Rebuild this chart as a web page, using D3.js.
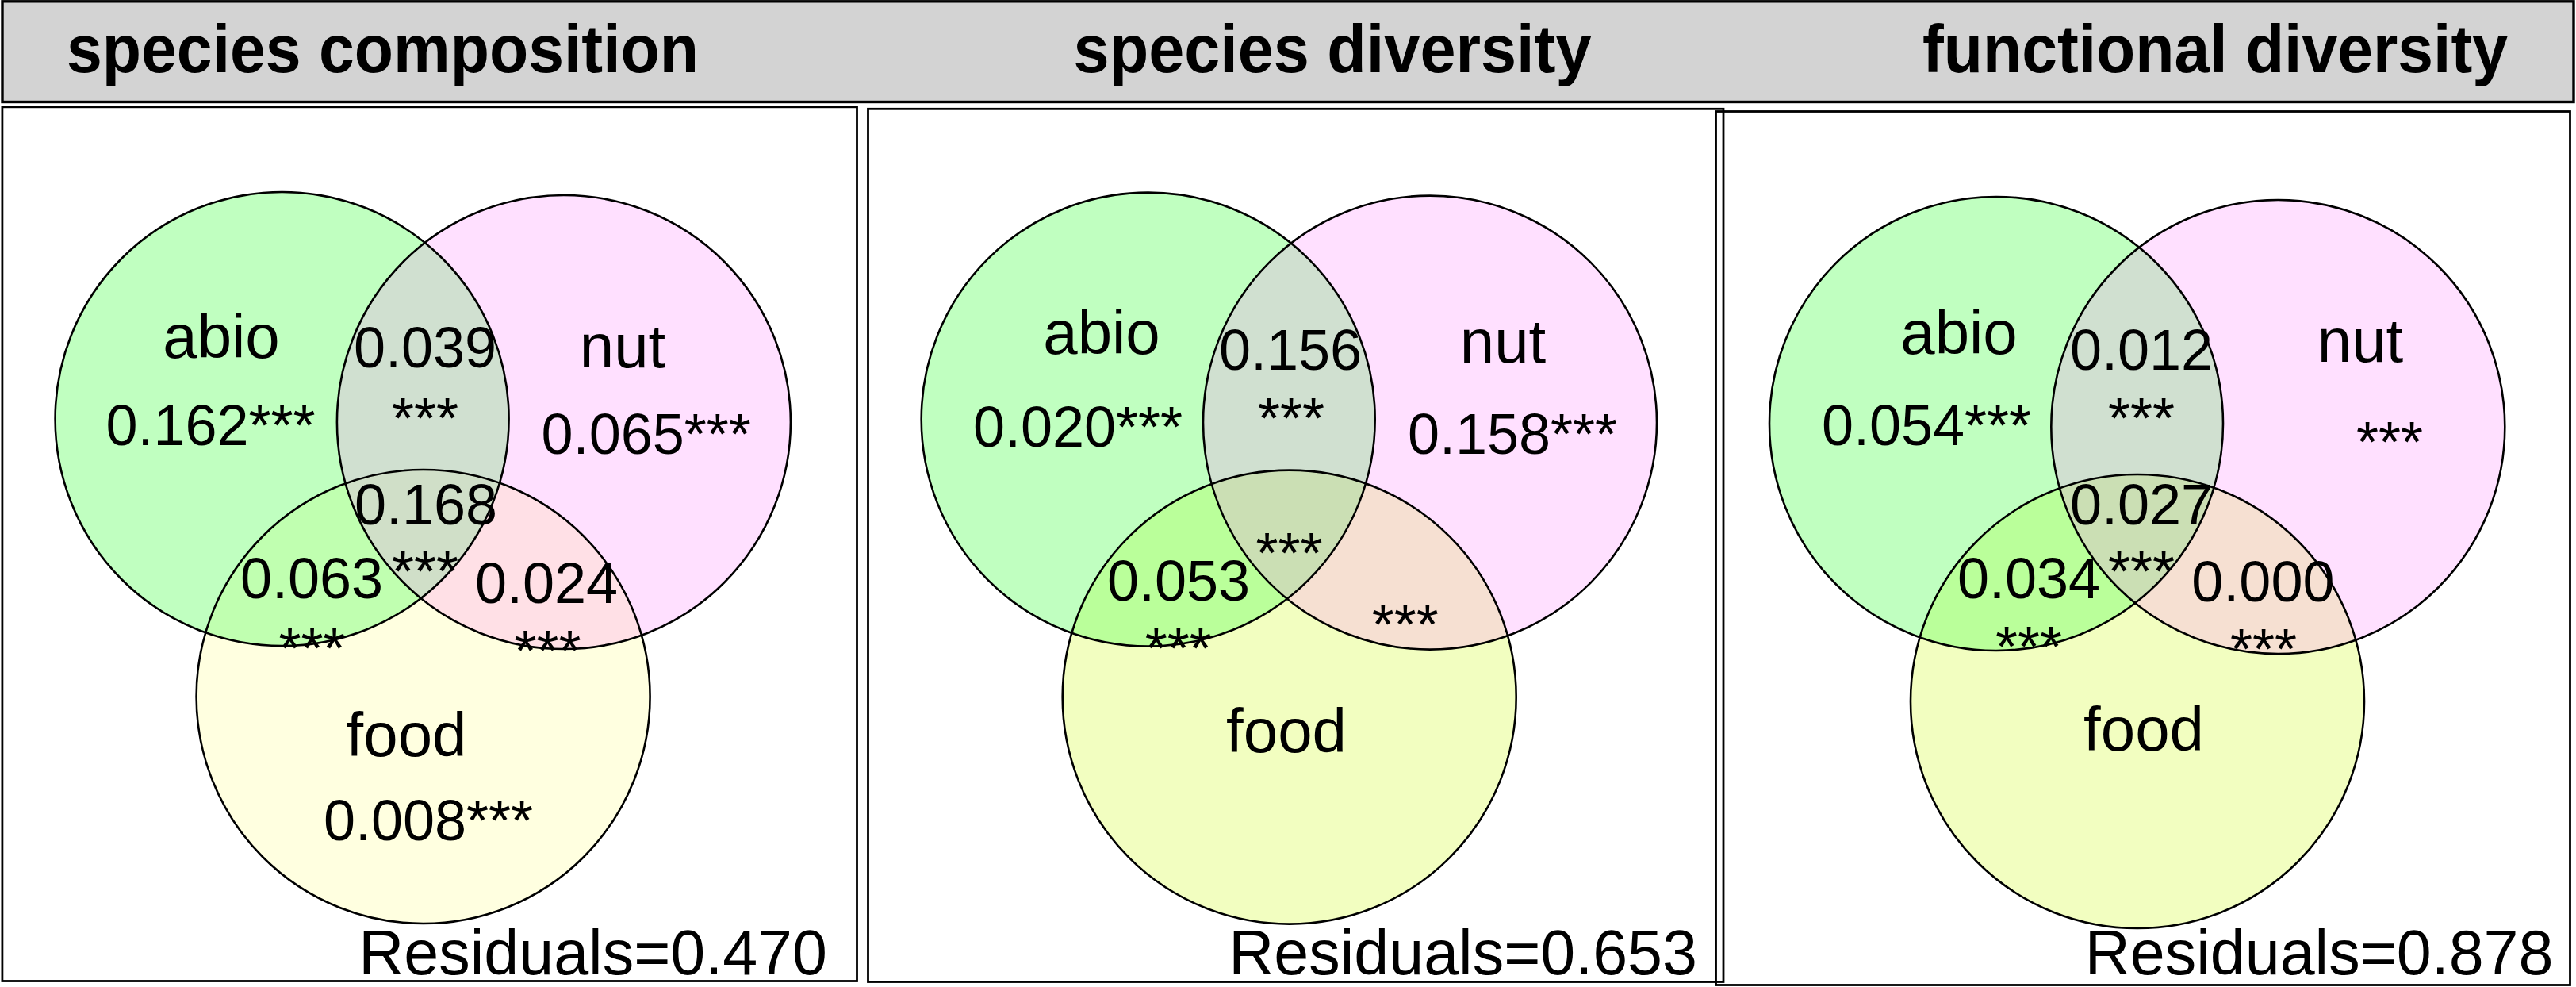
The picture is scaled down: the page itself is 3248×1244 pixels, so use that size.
<!DOCTYPE html>
<html>
<head>
<meta charset="utf-8">
<script src="https://cdn.jsdelivr.net/npm/d3@7"></script>
<style>
  html, body { margin: 0; padding: 0; background: #ffffff; }
  svg { display: block; }
  text { font-family: "Liberation Sans", Arial, Helvetica, sans-serif; fill: #000; }
</style>
</head>
<body>
<svg id="chart" width="3248" height="1244"></svg>
<script>
// ---------------- DATA ----------------
const titles = ["species composition", "species diversity", "functional diversity"];
const setNames = ["abio", "nut", "food"];
const regionKeys = ["abio", "nut", "food", "abio_nut", "abio_food", "nut_food", "abio_nut_food"];
const compositionValues = [0.162, 0.065, 0.008, 0.039, 0.063, 0.024, 0.168];
const diversityValues   = [0.020, 0.158, null, 0.156, 0.053, null, null];
const functionalValues  = [0.054, null, null, 0.012, 0.034, 0.000, 0.027];
const compositionSig = ["***", "***", "***", "***", "***", "***", "***"];
const diversitySig   = ["***", "***", "",    "***", "***", "***", "***"];
const functionalSig  = ["***", "***", "",    "***", "***", "***", "***"];
const residuals = [0.470, 0.653, 0.878];

// ---------------- LAYOUT (positions / styles) ----------------
const W = 3248, H = 1244;
const R = 286; // circle radius in layout units
const setCenters = { abio: [0, 0], nut: [355.3, 4], food: [178, 350] };

const panels = [
  { ax: 355.6, ay: 528, box: [2.9, 134.8, 1080.5, 1236.5], titleX: 84, titleW: 797, resX: 1043, resY: 1228,
    labels: { abio: [-76.6, -77], nut: [429.4, -65.4], food: [156.9, 425] },
    pos: {
      abio: { v: [-90.1, 33] }, nut: { v: [459.1, 43.6] }, food: { v: [184.4, 531] },
      abio_nut: { v: [180.4, -65.4], s: [180.4, 24] },
      abio_food: { v: [37.4, 226.4], s: [37.9, 313.5] },
      nut_food: { v: [333.4, 232], s: [335, 317] },
      abio_nut_food: { v: [181.4, 133], s: [180.4, 217] } },
    colors: { abio: "#c0ffc0", nut: "#ffe0ff", food: "#ffffe0", abio_nut: "#d0e0d0",
              abio_food: "#c0ffb0", nut_food: "#ffe0e6", abio_nut_food: "#d0dfc8" } },
  { ax: 1447.7, ay: 528.6, box: [1094.5, 137.3, 2173, 1237.5], titleX: 1353.6, titleW: 653, resX: 2140, resY: 1228,
    labels: { abio: [-58.7, -82.6], nut: [447.3, -71.6], food: [174.3, 419.4] },
    pos: {
      abio: { v: [-88.7, 34.4] }, nut: { v: [459.3, 43] }, food: { v: [174, 520] },
      abio_nut: { v: [179.3, -63], s: [180.3, 23] },
      abio_food: { v: [38.3, 228], s: [38, 313] },
      nut_food: { v: [333, 232], s: [324, 283] },
      abio_nut_food: { v: [180, 133], s: [177.8, 193.4] } },
    colors: { abio: "#c0ffc0", nut: "#ffe0ff", food: "#f2fec0", abio_nut: "#d0e0d0",
              abio_food: "#baff9a", nut_food: "#f6e0d2", abio_nut_food: "#cbdfb4" } },
  { ax: 2517, ay: 534, box: [2163.5, 140.5, 3240.5, 1241.5], titleX: 2424, titleW: 738, resX: 3219.5, resY: 1228,
    labels: { abio: [-47, -88], nut: [459, -78.5], food: [186, 412] },
    pos: {
      abio: { v: [-88, 27] }, nut: { v: [459, 43], s: [496, 47.5] }, food: { v: [186, 520] },
      abio_nut: { v: [183, -68.5], s: [183, 17.5] },
      abio_food: { v: [41, 220.4], s: [41, 305.5] },
      nut_food: { v: [336.4, 224], s: [337, 309] },
      abio_nut_food: { v: [183, 127], s: [183, 211] } },
    colors: { abio: "#c0ffc0", nut: "#ffe0ff", food: "#f2fec0", abio_nut: "#d0e0d0",
              abio_food: "#baff9a", nut_food: "#f6e0d2", abio_nut_food: "#cbdfb4" } }
];

const panelValues = [compositionValues, diversityValues, functionalValues];
const panelSig = [compositionSig, diversitySig, functionalSig];

const fmt = d3.format(".3f");
const svg = d3.select("#chart");

// ---------------- HEADER ----------------
svg.append("rect")
  .attr("x", 3).attr("y", 1.8).attr("width", W - 6).attr("height", 126.7)
  .attr("fill", "#d3d3d3").attr("stroke", "#000").attr("stroke-width", 3.4);

titles.forEach((t, i) => {
  svg.append("text")
    .attr("x", panels[i].titleX).attr("y", 91)
    .attr("font-size", 85).attr("font-weight", "bold")
    .attr("textLength", panels[i].titleW).attr("lengthAdjust", "spacingAndGlyphs")
    .text(t);
});

// ---------------- PANELS ----------------
const defs = svg.append("defs");

panels.forEach((p, i) => {
  const x = d3.scaleLinear().domain([0, 1]).range([p.ax, p.ax + 1]);
  const y = d3.scaleLinear().domain([0, 1]).range([p.ay, p.ay + 1]);
  const g = svg.append("g");

  // frame
  g.append("rect")
    .attr("x", p.box[0]).attr("y", p.box[1])
    .attr("width", p.box[2] - p.box[0]).attr("height", p.box[3] - p.box[1])
    .attr("fill", "none").attr("stroke", "#000").attr("stroke-width", 2.8);

  const circ = setNames.map(n => ({ name: n, cx: x(setCenters[n][0]), cy: y(setCenters[n][1]), r: x(R) - x(0) }));
  const byName = {};
  circ.forEach(c => { byName[c.name] = c; });

  // clip paths
  circ.forEach(c => {
    defs.append("clipPath").attr("id", `clip-${c.name}-${i}`)
      .append("circle").attr("cx", c.cx).attr("cy", c.cy).attr("r", c.r);
  });

  const addCircle = (sel, c, fill) => sel.append("circle")
    .attr("cx", c.cx).attr("cy", c.cy).attr("r", c.r).attr("fill", fill);

  // single sets
  circ.forEach(c => addCircle(g, c, p.colors[c.name]));
  // pairwise intersections
  addCircle(g.append("g").attr("clip-path", `url(#clip-abio-${i})`), byName.nut, p.colors.abio_nut);
  addCircle(g.append("g").attr("clip-path", `url(#clip-abio-${i})`), byName.food, p.colors.abio_food);
  addCircle(g.append("g").attr("clip-path", `url(#clip-nut-${i})`), byName.food, p.colors.nut_food);
  // triple
  addCircle(g.append("g").attr("clip-path", `url(#clip-abio-${i})`)
              .append("g").attr("clip-path", `url(#clip-nut-${i})`), byName.food, p.colors.abio_nut_food);

  // outlines
  g.selectAll("circle.outline").data(circ).join("circle")
    .attr("class", "outline")
    .attr("cx", d => d.cx).attr("cy", d => d.cy).attr("r", d => d.r)
    .attr("fill", "none").attr("stroke", "#000").attr("stroke-width", 2.6);

  // set labels
  setNames.forEach(n => {
    g.append("text")
      .attr("x", x(p.labels[n][0])).attr("y", y(p.labels[n][1]))
      .attr("text-anchor", "middle").attr("font-size", 78)
      .text(n);
  });

  // region values
  const vals = panelValues[i], sigs = panelSig[i];
  regionKeys.forEach((k, j) => {
    const v = vals[j], s = sigs[j], pos = p.pos[k];
    const single = j < 3;
    if (v !== null && single) {
      g.append("text")
        .attr("x", x(pos.v[0])).attr("y", y(pos.v[1]))
        .attr("text-anchor", "middle").attr("font-size", 72)
        .text(fmt(v) + s);
    } else if (v !== null) {
      g.append("text")
        .attr("x", x(pos.v[0])).attr("y", y(pos.v[1]))
        .attr("text-anchor", "middle").attr("font-size", 72)
        .text(fmt(v));
      if (s) g.append("text")
        .attr("x", x(pos.s[0])).attr("y", y(pos.s[1]))
        .attr("text-anchor", "middle").attr("font-size", 72)
        .text(s);
    } else if (s && pos.s) {
      g.append("text")
        .attr("x", x(pos.s[0])).attr("y", y(pos.s[1]))
        .attr("text-anchor", "middle").attr("font-size", 72)
        .text(s);
    }
  });

  // residuals
  g.append("text")
    .attr("x", p.resX).attr("y", p.resY)
    .attr("text-anchor", "end").attr("font-size", 79)
    .text("Residuals=" + fmt(residuals[i]));
});
</script>
</body>
</html>
